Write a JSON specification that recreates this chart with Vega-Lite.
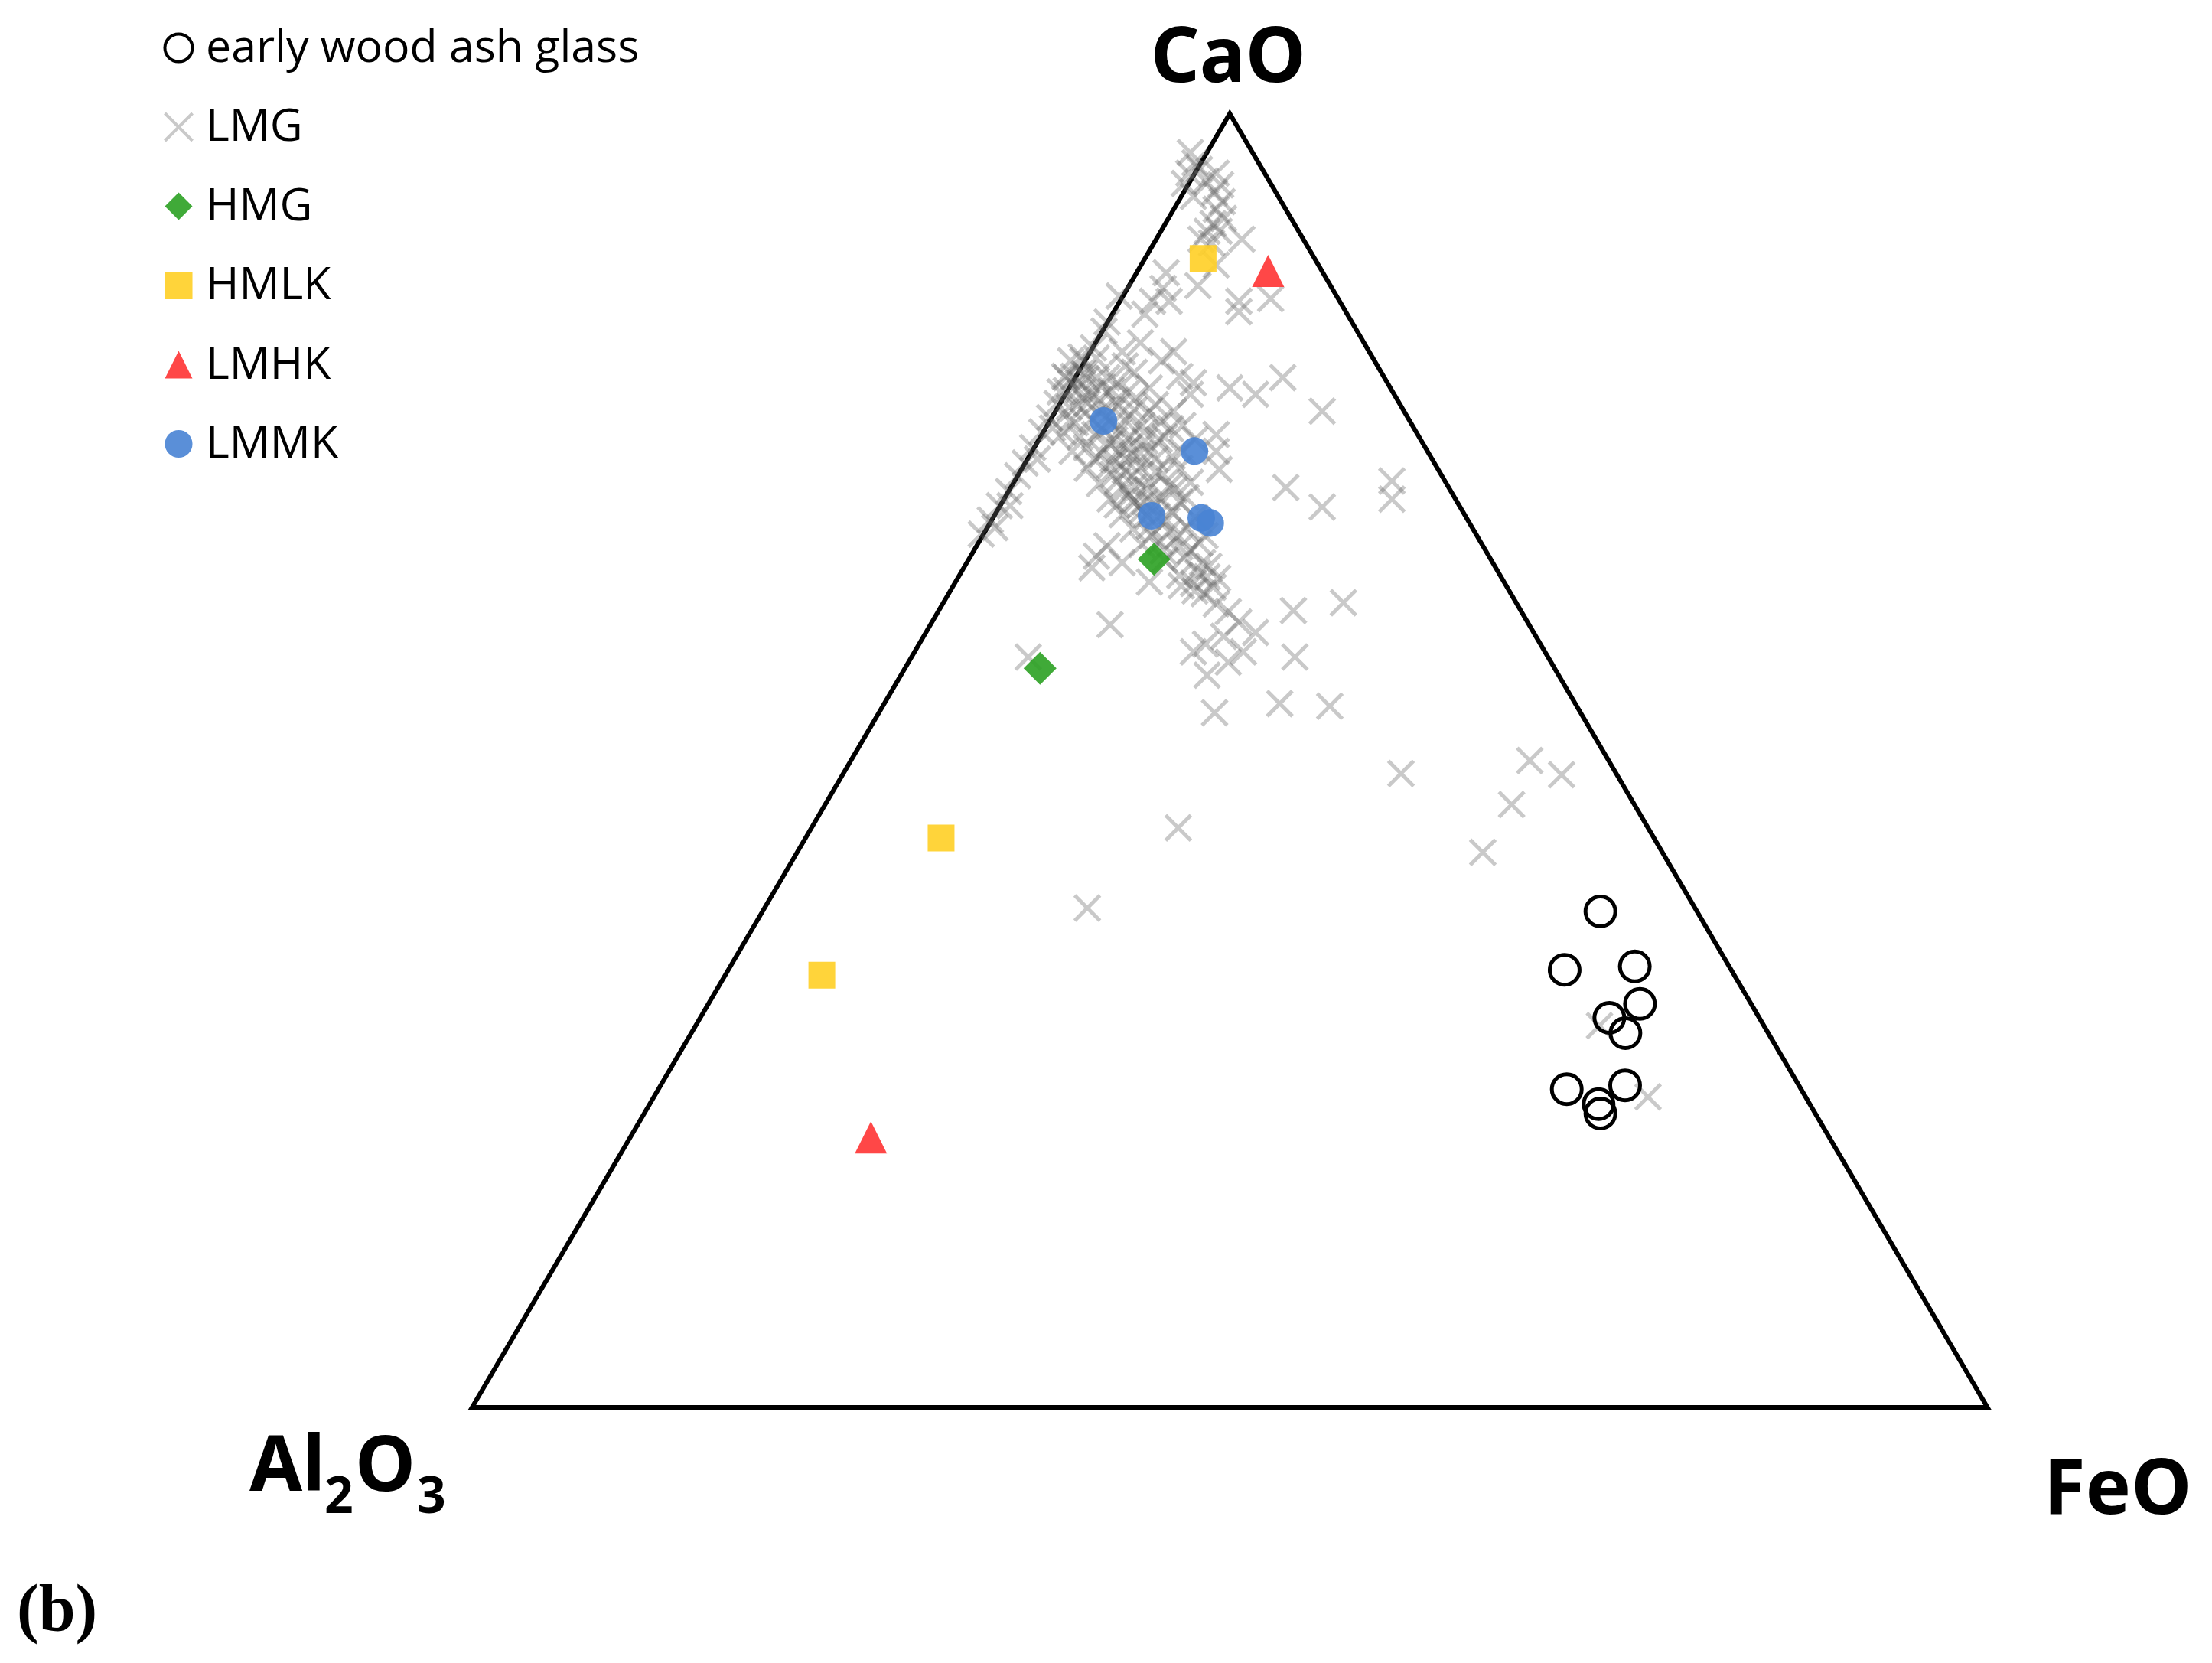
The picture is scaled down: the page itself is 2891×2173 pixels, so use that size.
{
  "$schema": "https://vega.github.io/schema/vega-lite/v6.json",
  "width": 2891,
  "height": 2173,
  "autosize": {"type": "fit", "contains": "padding"},
  "padding": 0,
  "background": "white",
  "config": {
    "view": {"stroke": null},
    "legend": {"orient": "none", "legendX": 204, "legendY": 33, "padding": 0, "symbolSize": 1300, "symbolStrokeWidth": 4, "labelFont": "Open Sans", "labelFontSize": 59, "labelColor": "black", "labelLimit": 2000, "labelOffset": 6, "rowPadding": 43.5}
  },
  "title": {"text": "(b)", "orient": "bottom", "anchor": "start", "frame": "group", "offset": -43, "dx": 22, "baseline": "alphabetic", "font": "Liberation Serif", "fontSize": 86, "fontWeight": "bold", "color": "black"},
  "datasets": {
    "frame": [
      {"i": 0, "x": 0, "y": 0},
      {"i": 1, "x": 100, "y": 0},
      {"i": 2, "x": 50, "y": 100},
      {"i": 3, "x": 0, "y": 0},
      {"i": 4, "x": 100, "y": 0}
    ],
    "samples": [
      {"group": "LMG", "x": 47.4, "y": 97.0}, {"group": "LMG", "x": 47.7, "y": 96.2}, {"group": "LMG", "x": 47.3, "y": 95.4}, {"group": "LMG", "x": 48.0, "y": 95.7}, {"group": "LMG", "x": 48.4, "y": 94.8}, {"group": "LMG", "x": 49.1, "y": 95.4}, {"group": "LMG", "x": 49.4, "y": 94.5}, {"group": "LMG", "x": 49.0, "y": 93.9}, {"group": "LMG", "x": 49.5, "y": 93.2}, {"group": "LMG", "x": 49.1, "y": 92.6}, {"group": "LMG", "x": 49.6, "y": 91.9}, {"group": "LMG", "x": 48.9, "y": 91.5}, {"group": "LMG", "x": 48.5, "y": 90.9}, {"group": "LMG", "x": 49.3, "y": 90.9}, {"group": "LMG", "x": 48.1, "y": 90.3}, {"group": "LMG", "x": 48.8, "y": 90.0}, {"group": "LMG", "x": 47.0, "y": 94.6}, {"group": "LMG", "x": 47.6, "y": 93.6},
      {"group": "LMG", "x": 50.8, "y": 90.3}, {"group": "LMG", "x": 50.6, "y": 85.5}, {"group": "LMG", "x": 50.6, "y": 84.7}, {"group": "LMG", "x": 52.7, "y": 85.7}, {"group": "LMG", "x": 49.1, "y": 88.3}, {"group": "LMG", "x": 47.9, "y": 86.7}, {"group": "LMG", "x": 45.6, "y": 86.5}, {"group": "LMG", "x": 45.8, "y": 87.7}, {"group": "LMG", "x": 46.0, "y": 85.5}, {"group": "LMG", "x": 44.9, "y": 85.5}, {"group": "LMG", "x": 44.4, "y": 84.5}, {"group": "LMG", "x": 42.7, "y": 85.9}, {"group": "LMG", "x": 41.9, "y": 83.9}, {"group": "LMG", "x": 44.1, "y": 82.3}, {"group": "LMG", "x": 46.3, "y": 81.6}, {"group": "LMG", "x": 42.9, "y": 81.6}, {"group": "LMG", "x": 40.2, "y": 81.2}, {"group": "LMG", "x": 47.6, "y": 79.2}, {"group": "LMG", "x": 50.0, "y": 78.8}, {"group": "LMG", "x": 51.7, "y": 78.3}, {"group": "LMG", "x": 53.5, "y": 79.6}, {"group": "LMG", "x": 39.2, "y": 79.6}, {"group": "LMG", "x": 41.2, "y": 79.6}, {"group": "LMG", "x": 56.1, "y": 77.0}, {"group": "LMG", "x": 53.7, "y": 71.1}, {"group": "LMG", "x": 60.7, "y": 71.6}, {"group": "LMG", "x": 60.7, "y": 70.2}, {"group": "LMG", "x": 56.1, "y": 69.6}, {"group": "LMG", "x": 49.1, "y": 73.9}, {"group": "LMG", "x": 49.3, "y": 72.5}, {"group": "LMG", "x": 49.1, "y": 75.2},
      {"group": "LMG", "x": 57.5, "y": 62.2}, {"group": "LMG", "x": 54.2, "y": 61.6}, {"group": "LMG", "x": 54.3, "y": 58.0}, {"group": "LMG", "x": 53.3, "y": 54.4}, {"group": "LMG", "x": 56.6, "y": 54.2}, {"group": "LMG", "x": 49.0, "y": 53.7}, {"group": "LMG", "x": 48.5, "y": 56.6}, {"group": "LMG", "x": 48.3, "y": 62.9}, {"group": "LMG", "x": 49.1, "y": 62.1}, {"group": "LMG", "x": 49.9, "y": 61.5}, {"group": "LMG", "x": 50.6, "y": 60.7}, {"group": "LMG", "x": 51.7, "y": 59.9}, {"group": "LMG", "x": 49.6, "y": 59.6}, {"group": "LMG", "x": 48.4, "y": 59.0}, {"group": "LMG", "x": 47.6, "y": 58.4}, {"group": "LMG", "x": 50.9, "y": 58.4}, {"group": "LMG", "x": 49.9, "y": 57.6}, {"group": "LMG", "x": 42.1, "y": 60.5}, {"group": "LMG", "x": 36.7, "y": 58.0}, {"group": "LMG", "x": 46.6, "y": 44.8}, {"group": "LMG", "x": 40.6, "y": 38.6}, {"group": "LMG", "x": 61.3, "y": 49.0}, {"group": "LMG", "x": 69.8, "y": 50.0}, {"group": "LMG", "x": 71.9, "y": 48.9}, {"group": "LMG", "x": 68.6, "y": 46.6}, {"group": "LMG", "x": 66.7, "y": 42.9}, {"group": "LMG", "x": 74.4, "y": 29.5}, {"group": "LMG", "x": 77.6, "y": 24.0}, {"group": "LMG", "x": 48.5, "y": 64.2}, {"group": "LMG", "x": 47.6, "y": 63.7}, {"group": "LMG", "x": 46.8, "y": 63.5}, {"group": "LMG", "x": 44.7, "y": 63.8}, {"group": "LMG", "x": 41.2, "y": 65.8}, {"group": "LMG", "x": 40.9, "y": 64.9}, {"group": "LMG", "x": 41.9, "y": 66.6}, {"group": "LMG", "x": 42.9, "y": 65.3},
      {"group": "LMG", "x": 41.7, "y": 83.2}, {"group": "LMG", "x": 41.0, "y": 81.9}, {"group": "LMG", "x": 40.3, "y": 80.9}, {"group": "LMG", "x": 39.7, "y": 79.7}, {"group": "LMG", "x": 39.2, "y": 78.6}, {"group": "LMG", "x": 38.6, "y": 77.6}, {"group": "LMG", "x": 38.1, "y": 76.5}, {"group": "LMG", "x": 37.6, "y": 75.4}, {"group": "LMG", "x": 37.0, "y": 74.2}, {"group": "LMG", "x": 36.5, "y": 73.0}, {"group": "LMG", "x": 36.0, "y": 72.0}, {"group": "LMG", "x": 35.4, "y": 70.8}, {"group": "LMG", "x": 34.8, "y": 69.7}, {"group": "LMG", "x": 34.2, "y": 68.6}, {"group": "LMG", "x": 33.6, "y": 67.5}, {"group": "LMG", "x": 34.5, "y": 68.0}, {"group": "LMG", "x": 38.3, "y": 75.7}, {"group": "LMG", "x": 37.3, "y": 73.3}, {"group": "LMG", "x": 35.5, "y": 69.7}, {"group": "LMG", "x": 40.0, "y": 79.2},
      {"group": "LMG", "x": 39.5, "y": 80.9}, {"group": "LMG", "x": 41.2, "y": 81.1}, {"group": "LMG", "x": 43.1, "y": 80.5}, {"group": "LMG", "x": 45.5, "y": 80.9},
      {"group": "LMG", "x": 39.1, "y": 79.7}, {"group": "LMG", "x": 40.4, "y": 79.9}, {"group": "LMG", "x": 41.9, "y": 79.6}, {"group": "LMG", "x": 43.7, "y": 80.0}, {"group": "LMG", "x": 46.7, "y": 79.7},
      {"group": "LMG", "x": 38.8, "y": 78.5}, {"group": "LMG", "x": 40.0, "y": 78.7}, {"group": "LMG", "x": 40.9, "y": 78.3}, {"group": "LMG", "x": 42.2, "y": 78.6}, {"group": "LMG", "x": 43.2, "y": 78.4}, {"group": "LMG", "x": 44.7, "y": 78.8}, {"group": "LMG", "x": 47.4, "y": 78.3},
      {"group": "LMG", "x": 39.4, "y": 77.3}, {"group": "LMG", "x": 40.6, "y": 77.6}, {"group": "LMG", "x": 41.6, "y": 77.1}, {"group": "LMG", "x": 42.6, "y": 77.4}, {"group": "LMG", "x": 43.7, "y": 77.1}, {"group": "LMG", "x": 45.1, "y": 77.5}, {"group": "LMG", "x": 46.3, "y": 77.0},
      {"group": "LMG", "x": 39.8, "y": 76.1}, {"group": "LMG", "x": 40.9, "y": 76.4}, {"group": "LMG", "x": 42.2, "y": 76.0}, {"group": "LMG", "x": 43.1, "y": 76.3}, {"group": "LMG", "x": 44.2, "y": 75.9}, {"group": "LMG", "x": 45.4, "y": 76.2}, {"group": "LMG", "x": 46.9, "y": 75.9},
      {"group": "LMG", "x": 40.1, "y": 75.0}, {"group": "LMG", "x": 41.1, "y": 75.2}, {"group": "LMG", "x": 42.4, "y": 74.8}, {"group": "LMG", "x": 43.4, "y": 75.1}, {"group": "LMG", "x": 44.4, "y": 74.7}, {"group": "LMG", "x": 45.7, "y": 75.0}, {"group": "LMG", "x": 47.7, "y": 74.8},
      {"group": "LMG", "x": 39.6, "y": 73.9}, {"group": "LMG", "x": 41.6, "y": 73.7}, {"group": "LMG", "x": 42.7, "y": 74.0}, {"group": "LMG", "x": 43.6, "y": 73.6}, {"group": "LMG", "x": 44.7, "y": 73.9}, {"group": "LMG", "x": 46.2, "y": 73.5},
      {"group": "LMG", "x": 40.6, "y": 72.6}, {"group": "LMG", "x": 42.1, "y": 72.8}, {"group": "LMG", "x": 43.1, "y": 72.4}, {"group": "LMG", "x": 44.1, "y": 72.7}, {"group": "LMG", "x": 45.1, "y": 72.3}, {"group": "LMG", "x": 46.7, "y": 72.6},
      {"group": "LMG", "x": 41.4, "y": 71.4}, {"group": "LMG", "x": 42.6, "y": 71.6}, {"group": "LMG", "x": 43.7, "y": 71.2}, {"group": "LMG", "x": 44.7, "y": 71.5}, {"group": "LMG", "x": 46.0, "y": 71.2}, {"group": "LMG", "x": 47.4, "y": 71.5},
      {"group": "LMG", "x": 42.1, "y": 70.2}, {"group": "LMG", "x": 43.4, "y": 70.5}, {"group": "LMG", "x": 44.4, "y": 70.0}, {"group": "LMG", "x": 45.4, "y": 70.3}, {"group": "LMG", "x": 46.7, "y": 70.0},
      {"group": "LMG", "x": 42.9, "y": 69.0}, {"group": "LMG", "x": 44.2, "y": 69.3}, {"group": "LMG", "x": 45.2, "y": 68.9}, {"group": "LMG", "x": 46.2, "y": 69.2}, {"group": "LMG", "x": 47.7, "y": 68.8},
      {"group": "LMG", "x": 43.6, "y": 67.9}, {"group": "LMG", "x": 44.7, "y": 68.1}, {"group": "LMG", "x": 46.0, "y": 67.7}, {"group": "LMG", "x": 47.2, "y": 68.0},
      {"group": "LMG", "x": 44.2, "y": 66.7}, {"group": "LMG", "x": 45.4, "y": 66.9}, {"group": "LMG", "x": 46.7, "y": 66.5}, {"group": "LMG", "x": 48.0, "y": 66.8},
      {"group": "LMG", "x": 45.7, "y": 65.5}, {"group": "LMG", "x": 47.0, "y": 65.7}, {"group": "LMG", "x": 48.2, "y": 65.3},
      {"group": "LMG", "x": 46.7, "y": 64.3}, {"group": "LMG", "x": 47.9, "y": 64.5}, {"group": "LMG", "x": 49.2, "y": 64.1},
      {"group": "LMG", "x": 47.7, "y": 63.1}, {"group": "LMG", "x": 48.9, "y": 63.4},
      {"group": "LMG", "x": 40.29, "y": 78.03}, {"group": "LMG", "x": 41.40, "y": 77.91}, {"group": "LMG", "x": 42.46, "y": 77.79}, {"group": "LMG", "x": 41.81, "y": 76.55}, {"group": "LMG", "x": 42.72, "y": 75.54}, {"group": "LMG", "x": 41.56, "y": 75.66}, {"group": "LMG", "x": 40.55, "y": 74.18}, {"group": "LMG", "x": 42.06, "y": 74.47}, {"group": "LMG", "x": 43.07, "y": 73.29}, {"group": "LMG", "x": 44.08, "y": 73.76}, {"group": "LMG", "x": 45.09, "y": 73.29}, {"group": "LMG", "x": 41.05, "y": 73.29}, {"group": "LMG", "x": 42.31, "y": 72.11}, {"group": "LMG", "x": 43.58, "y": 71.99}, {"group": "LMG", "x": 44.59, "y": 70.93}, {"group": "LMG", "x": 45.60, "y": 72.11}, {"group": "LMG", "x": 43.07, "y": 70.93}, {"group": "LMG", "x": 44.08, "y": 69.74}, {"group": "LMG", "x": 45.09, "y": 69.74}, {"group": "LMG", "x": 45.85, "y": 68.56}, {"group": "LMG", "x": 44.84, "y": 67.38}, {"group": "LMG", "x": 46.60, "y": 67.38}, {"group": "LMG", "x": 46.35, "y": 70.93}, {"group": "LMG", "x": 47.11, "y": 70.33}, {"group": "LMG", "x": 46.86, "y": 73.88}, {"group": "LMG", "x": 46.10, "y": 75.66}, {"group": "LMG", "x": 44.59, "y": 76.84}, {"group": "LMG", "x": 43.83, "y": 78.03}, {"group": "LMG", "x": 42.57, "y": 79.21}, {"group": "LMG", "x": 41.56, "y": 78.91}, {"group": "LMG", "x": 40.55, "y": 79.50}, {"group": "LMG", "x": 44.33, "y": 75.36}, {"group": "LMG", "x": 43.32, "y": 74.18}, {"group": "LMG", "x": 42.31, "y": 73.29}, {"group": "LMG", "x": 45.34, "y": 74.83}, {"group": "LMG", "x": 43.58, "y": 70.04}, {"group": "LMG", "x": 42.57, "y": 69.74}, {"group": "LMG", "x": 44.59, "y": 68.86}, {"group": "LMG", "x": 45.60, "y": 66.19}, {"group": "LMG", "x": 47.36, "y": 66.19}, {"group": "LMG", "x": 48.37, "y": 67.38}, {"group": "LMG", "x": 48.62, "y": 65.01}, {"group": "LMG", "x": 39.94, "y": 77.43}, {"group": "LMG", "x": 39.43, "y": 76.25}, {"group": "LMG", "x": 39.03, "y": 75.36},
      {"group": "early wood ash glass", "x": 74.46, "y": 38.33}, {"group": "early wood ash glass", "x": 72.10, "y": 33.82}, {"group": "early wood ash glass", "x": 76.73, "y": 34.09}, {"group": "early wood ash glass", "x": 77.07, "y": 31.19}, {"group": "early wood ash glass", "x": 75.05, "y": 30.11}, {"group": "early wood ash glass", "x": 76.11, "y": 28.93}, {"group": "early wood ash glass", "x": 72.24, "y": 24.59}, {"group": "early wood ash glass", "x": 76.09, "y": 24.89}, {"group": "early wood ash glass", "x": 74.34, "y": 23.44}, {"group": "early wood ash glass", "x": 74.46, "y": 22.72},
      {"group": "HMG", "x": 45.00, "y": 65.56}, {"group": "HMG", "x": 37.48, "y": 57.13},
      {"group": "HMLK", "x": 48.24, "y": 88.81}, {"group": "HMLK", "x": 30.95, "y": 44.01}, {"group": "HMLK", "x": 23.08, "y": 33.40},
      {"group": "LMHK", "x": 52.53, "y": 87.84}, {"group": "LMHK", "x": 26.32, "y": 20.86},
      {"group": "LMMK", "x": 41.67, "y": 76.25}, {"group": "LMMK", "x": 47.67, "y": 73.92}, {"group": "LMMK", "x": 44.84, "y": 68.92}, {"group": "LMMK", "x": 48.12, "y": 68.75}, {"group": "LMMK", "x": 48.71, "y": 68.36}
    ]
  },
  "encoding": {
    "x": {"field": "x", "type": "quantitative", "scale": {"domain": [-31.154, 114.82], "nice": false, "zero": false}, "axis": null},
    "y": {"field": "y", "type": "quantitative", "scale": {"domain": [-19.758, 108.785], "nice": false, "zero": false}, "axis": null}
  },
  "layer": [
    {
      "data": {"name": "frame"},
      "mark": {"type": "line", "color": "black", "strokeWidth": 6, "strokeJoin": "miter", "clip": false},
      "encoding": {"order": {"field": "i", "type": "quantitative"}}
    },
    {
      "data": {"name": "samples"},
      "mark": {"type": "point", "strokeWidth": 5, "opacity": 1, "clip": false},
      "encoding": {
        "shape": {"field": "group", "type": "nominal", "title": null, "scale": {"domain": ["early wood ash glass", "LMG", "HMG", "HMLK", "LMHK", "LMMK"], "range": ["circle", "M-1,-1L1,1M-1,1L1,-1", "diamond", "square", "M0,-1L1,1L-1,1Z", "circle"]}},
        "fill": {"field": "group", "type": "nominal", "title": null, "scale": {"domain": ["early wood ash glass", "LMG", "HMG", "HMLK", "LMHK", "LMMK"], "range": ["rgba(0,0,0,0)", "rgba(0,0,0,0)", "rgba(43,161,34,0.9)", "rgba(255,207,37,0.9)", "rgba(255,51,51,0.9)", "rgba(72,131,212,0.9)"]}},
        "stroke": {"field": "group", "type": "nominal", "title": null, "scale": {"domain": ["early wood ash glass", "LMG", "HMG", "HMLK", "LMHK", "LMMK"], "range": ["black", "rgba(100,100,100,0.35)", "rgba(0,0,0,0)", "rgba(0,0,0,0)", "rgba(0,0,0,0)", "rgba(0,0,0,0)"]}},
        "size": {"field": "group", "type": "ordinal", "scale": {"type": "ordinal", "domain": ["LMG", "early wood ash glass", "HMG", "HMLK", "LMHK", "LMMK"], "range": [1089, 1521, 1849, 1225, 1764, 1300]}, "legend": null}
      }
    },
    {
      "data": {"values": [{"vertex": "CaO", "x": 50, "y": 100}]},
      "mark": {"type": "text", "font": "Noto Sans", "fontWeight": "bold", "fontSize": 100, "color": "black", "align": "center", "baseline": "alphabetic", "dx": -2, "dy": -42},
      "encoding": {"text": {"field": "vertex"}}
    },
    {
      "data": {"values": [{"vertex": "Al", "x": 0, "y": 0}]},
      "mark": {"type": "text", "font": "Noto Sans", "fontWeight": "bold", "fontSize": 100, "color": "black", "align": "left", "baseline": "alphabetic", "dx": -291, "dy": 109},
      "encoding": {"text": {"field": "vertex"}}
    },
    {
      "data": {"values": [{"vertex": "2", "x": 0, "y": 0}]},
      "mark": {"type": "text", "font": "Noto Sans", "fontWeight": "bold", "fontSize": 66, "color": "black", "align": "left", "baseline": "alphabetic", "dx": -193, "dy": 138},
      "encoding": {"text": {"field": "vertex"}}
    },
    {
      "data": {"values": [{"vertex": "O", "x": 0, "y": 0}]},
      "mark": {"type": "text", "font": "Noto Sans", "fontWeight": "bold", "fontSize": 100, "color": "black", "align": "left", "baseline": "alphabetic", "dx": -153, "dy": 109},
      "encoding": {"text": {"field": "vertex"}}
    },
    {
      "data": {"values": [{"vertex": "3", "x": 0, "y": 0}]},
      "mark": {"type": "text", "font": "Noto Sans", "fontWeight": "bold", "fontSize": 66, "color": "black", "align": "left", "baseline": "alphabetic", "dx": -72, "dy": 138},
      "encoding": {"text": {"field": "vertex"}}
    },
    {
      "data": {"values": [{"vertex": "FeO", "x": 100, "y": 0}]},
      "mark": {"type": "text", "font": "Noto Sans", "fontWeight": "bold", "fontSize": 100, "color": "black", "align": "center", "baseline": "alphabetic", "dx": 170, "dy": 139},
      "encoding": {"text": {"field": "vertex"}}
    }
  ]
}
